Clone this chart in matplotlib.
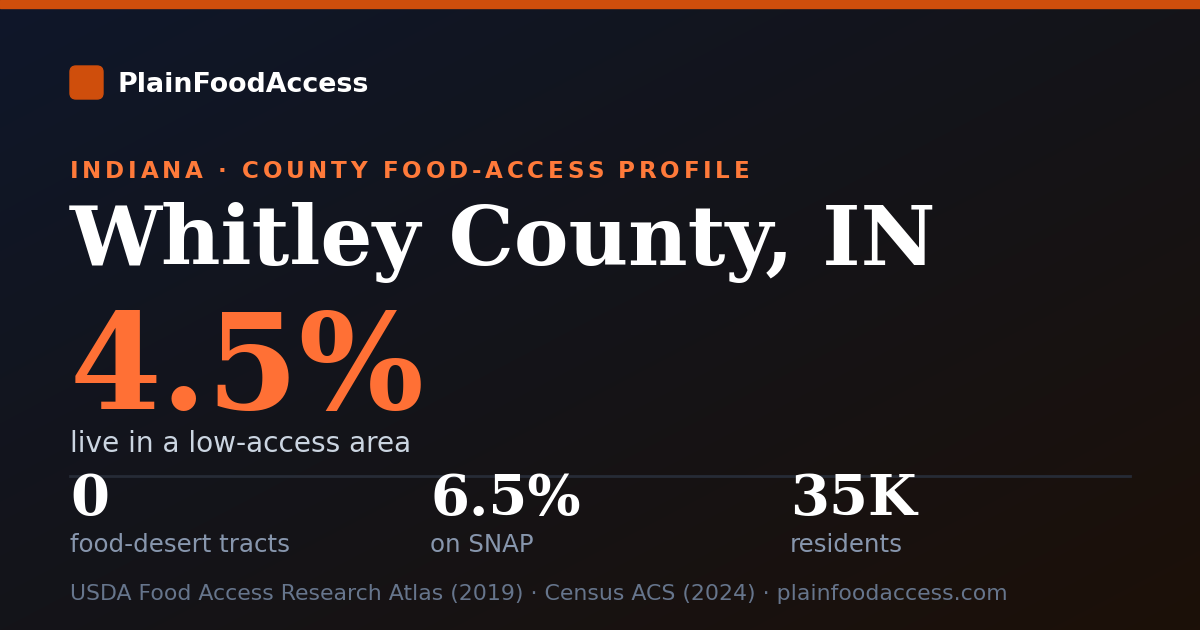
import numpy as np
import matplotlib
matplotlib.use("Agg")
from matplotlib import pyplot as plt
from matplotlib.patches import FancyBboxPatch, Rectangle
from matplotlib.colors import LinearSegmentedColormap

W, H = 1200, 630

brand = "PlainFoodAccess"
kicker = "INDIANA · COUNTY FOOD-ACCESS PROFILE"
county = "Whitley County, IN"
headline_value = "4.5%"
headline_label = "live in a low-access area"
stat_values = ["0", "6.5%", "35K"]
stat_labels = ["food-desert tracts", "on SNAP", "residents"]
source = "USDA Food Access Research Atlas (2019) · Census ACS (2024) · plainfoodaccess.com"


def px(p):
    # pixel font size -> points at dpi 100
    return p * 0.72


fig = plt.figure(figsize=(W / 100, H / 100), dpi=100)
ax = fig.add_axes([0, 0, 1, 1])
ax.set_xlim(0, W)
ax.set_ylim(H, 0)
ax.axis("off")

# diagonal background gradient
yy, xx = np.mgrid[0:H, 0:W]
t = (xx / W + yy / H) / 2
cmap = LinearSegmentedColormap.from_list("bg", ["#0f172a", "#141419", "#1c1008"])
ax.imshow(t, cmap=cmap, extent=[0, W, H, 0], aspect="auto", zorder=0)

# top bar
ax.add_patch(Rectangle((0, 0), W, 8, color="#cf4e0c", zorder=2))

# logo
ax.add_patch(FancyBboxPatch((70, 66), 33, 33, boxstyle="round,pad=0,rounding_size=6",
                            color="#cf4e0c", zorder=2))
ax.text(118, 92, brand, fontsize=px(26.9), fontweight="bold", color="white",
        family="DejaVu Sans", va="baseline", ha="left", zorder=3)

# letter-spaced kicker
renderer = fig.canvas.get_renderer()
kfont = matplotlib.font_manager.FontProperties(family="DejaVu Sans", weight="bold", size=px(23))
spacing = 3.7
x0 = 70
for i, ch in enumerate(kicker):
    w = renderer.get_text_width_height_descent(kicker[:i], kfont, ismath=False)[0] if i else 0
    ax.text(x0 + w + i * spacing, 178, ch, fontproperties=kfont, color="#ff7a3a",
            va="baseline", ha="left", zorder=3)

# county title
ax.text(70, 265, county, fontsize=px(82), fontweight="bold", color="white",
        family="DejaVu Serif", va="baseline", ha="left", zorder=3)

# headline number
ax.text(70, 409, headline_value, fontsize=px(132), fontweight="bold", color="#ff7035",
        family="DejaVu Serif", va="baseline", ha="left", zorder=3)
ax.text(70, 452, headline_label, fontsize=px(28), color="#cbd5e1",
        family="DejaVu Sans", va="baseline", ha="left", zorder=3)

# divider
ax.plot([70, 1130], [475.5, 475.5], color="#262b36", lw=2, zorder=2)

# stats row
for i, (v, lab) in enumerate(zip(stat_values, stat_labels)):
    x = 70 + i * 360
    ax.text(x, 515, v, fontsize=px(56), fontweight="bold", color="white",
            family="DejaVu Serif", va="baseline", ha="left", zorder=3)
    ax.text(x, 552, lab, fontsize=px(24.5), color="#8796ad",
            family="DejaVu Sans", va="baseline", ha="left", zorder=3)

# footer
ax.text(70, 600, source, fontsize=px(22), color="#66758c",
        family="DejaVu Sans", va="baseline", ha="left", zorder=3)

fig.savefig("out.png", dpi=100)
